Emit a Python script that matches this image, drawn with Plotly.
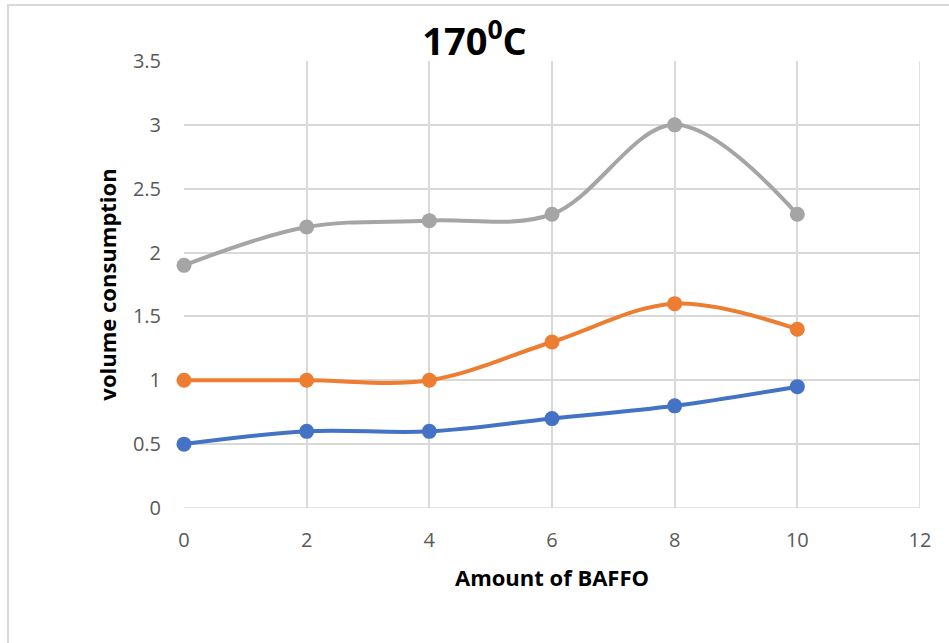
import plotly.graph_objects as go

# BAFFO amount (x) and volume consumption for the three series
baffo = [0, 2, 4, 6, 8, 10]
series_blue = [0.5, 0.6, 0.6, 0.7, 0.8, 0.95]
series_orange = [1.0, 1.0, 1.0, 1.3, 1.6, 1.4]
series_grey = [1.9, 2.2, 2.25, 2.3, 3.0, 2.3]

x_ticks = [0, 2, 4, 6, 8, 10, 12]
y_ticks = [0, 0.5, 1, 1.5, 2, 2.5, 3, 3.5]
y_tick_text = ["0", "0.5", "1", "1.5", "2", "2.5", "3", "3.5"]

colors = ["#4472C4", "#ED7D31", "#A5A5A5"]

fig = go.Figure()
for ys, c in zip([series_blue, series_orange, series_grey], colors):
    fig.add_trace(go.Scatter(
        x=baffo, y=ys, mode="lines+markers",
        line=dict(color=c, width=4, shape="spline", smoothing=1.0),
        marker=dict(color=c, size=15),
        cliponaxis=False,
        showlegend=False,
    ))

font_family = "Open Sans, sans-serif"
grid = "#D9D9D9"

fig.update_layout(
    width=949, height=643,
    margin=dict(l=184, r=29, t=61, b=135),
    paper_bgcolor="white", plot_bgcolor="white",
    title=dict(text="<b>170<sup>0</sup>C</b>", x=0.5, xanchor="center",
               y=0.935, yanchor="middle",
               font=dict(family=font_family, size=38, color="black")),
    xaxis=dict(range=[0, 12], tickvals=x_ticks, showgrid=True, gridcolor=grid,
               gridwidth=1.5, zeroline=False, showline=False, ticks="",
               tickfont=dict(family=font_family, size=20, color="#595959"),
               ticklabelstandoff=18,
               title=dict(text="<b>Amount of BAFFO</b>", standoff=18,
                          font=dict(family=font_family, size=22, color="black"))),
    yaxis=dict(range=[0, 3.5], tickvals=y_ticks, ticktext=y_tick_text,
               showgrid=True, gridcolor=grid, gridwidth=1.5,
               zeroline=False, showline=False, ticks="",
               tickfont=dict(family=font_family, size=20, color="#595959"),
               ticklabelstandoff=22,
               title=dict(text="<b>volume consumption</b>", standoff=10,
                          font=dict(family=font_family, size=22, color="black"))),
)

# light frame drawn around the chart area
fig.add_shape(type="rect", xref="paper", yref="paper",
              x0=(8 - 184) / 736, x1=1.2, y0=-0.5, y1=(508 - 5) / 447,
              line=dict(color="#D9D9D9", width=2), layer="below")
# plot boundary at x=12 and y=0
fig.add_shape(type="line", xref="x", yref="y", x0=0, x1=12, y0=0, y1=0,
              line=dict(color=grid, width=1.5), layer="below")
fig.add_shape(type="line", xref="x", yref="y", x0=12, x1=12, y0=0, y1=3.5,
              line=dict(color=grid, width=1.5), layer="below")

fig.write_html("out.html")
